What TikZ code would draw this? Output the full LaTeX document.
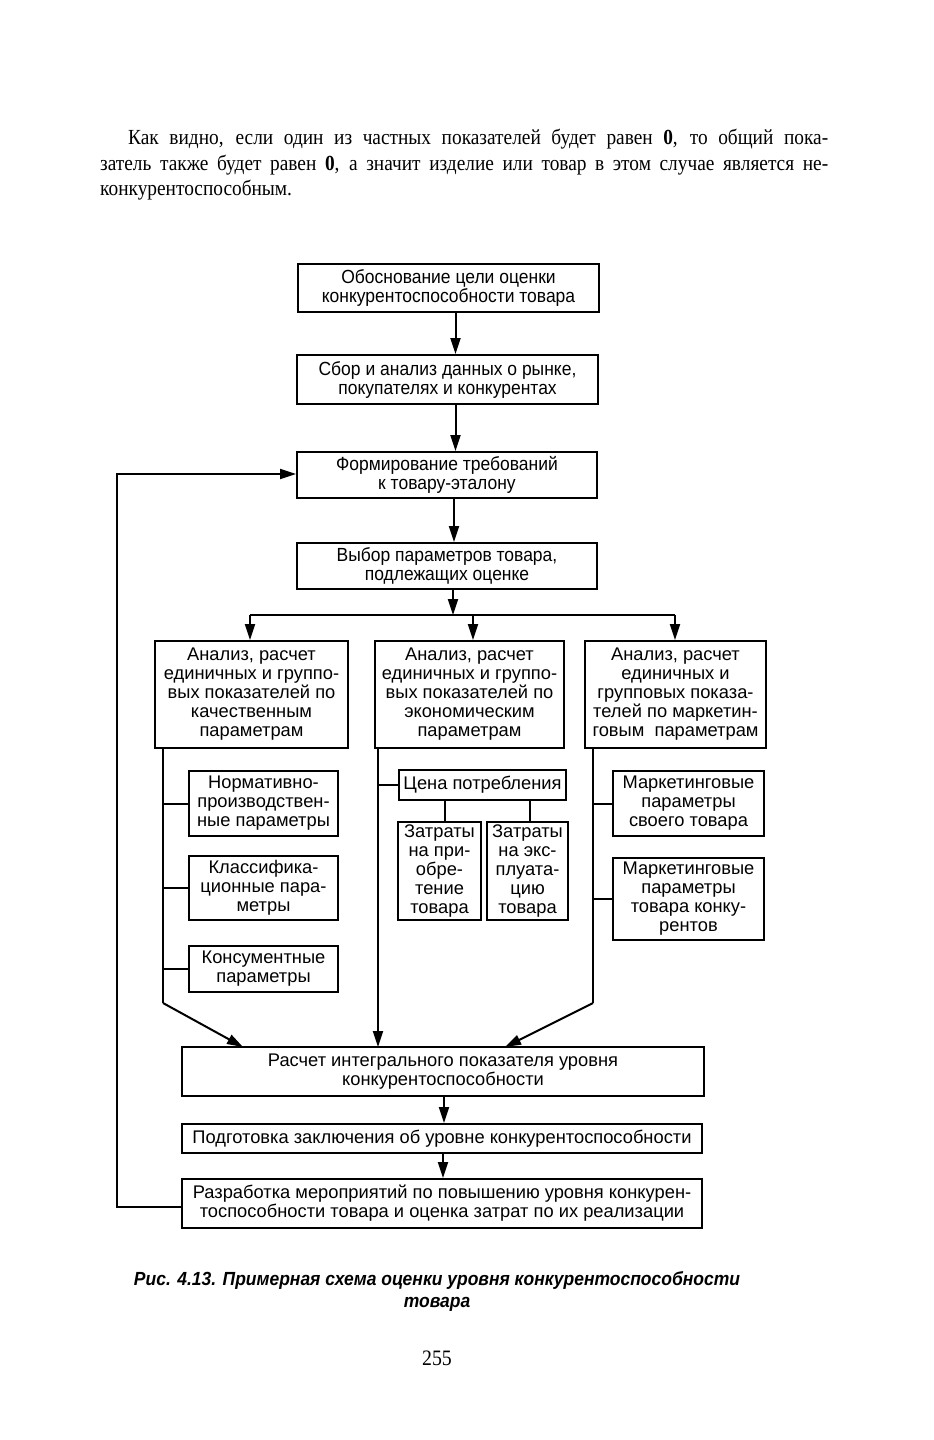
\documentclass[tikz,border=0pt]{standalone}
\usepackage{fontspec}
\setmainfont[FakeStretch=0.9]{Liberation Serif}
\newfontfamily\boxsans{Liberation Sans}
\newfontfamily\condsans[FakeStretch=0.92]{Liberation Sans}
\usetikzlibrary{arrows.meta}
\begin{document}
\begin{tikzpicture}[x=1pt,y=-1pt,
  box/.style={draw, line width=2pt, inner sep=0pt, align=center, font=\boxsans\fontsize{18.3}{19}\selectfont},
  topbox/.style={box, font=\condsans\fontsize{19}{19}\selectfont},
  ln/.style={line width=2pt},
  arr/.style={line width=2pt, -{Triangle[length=16pt,width=10pt]}},
  para/.style={anchor=base west, inner sep=0pt, font=\fontsize{21.5}{25}\selectfont},
]
\useasboundingbox (0,0) rectangle (934,1440);

% paragraph
\node[para] (p1) at (128,144) {\makebox[700pt][s]{Как видно, если один из частных показателей будет равен \textbf{0}, то общий пока-}};
\node[para] (p2) at (100,170) {\makebox[728pt][s]{затель также будет равен \textbf{0}, а значит изделие или товар в этом случае является не-}};
\node[para] (p3) at (100,195) {конкурентоспособным.};

% main column
\node[topbox, minimum width=301pt, minimum height=48pt] (b1) at (448.5,288) {Обоснование цели оценки\\конкурентоспособности товара};
\node[topbox, minimum width=301pt, minimum height=49pt] (b2) at (447.5,379.5) {Сбор и анализ данных о рынке,\\покупателях и конкурентах};
\node[topbox, minimum width=300pt, minimum height=46pt] (b3) at (447,475) {Формирование требований\\к товару-эталону};
\node[topbox, minimum width=300pt, minimum height=46pt] (b4) at (447,566) {Выбор параметров товара,\\подлежащих оценке};

\draw[arr] ([xshift=7pt]b1.south) -- ([xshift=7pt]b1.south |- b2.north);
\draw[arr] ([xshift=8pt]b2.south) -- ([xshift=8pt]b2.south |- b3.north);
\draw[arr] ([xshift=7pt]b3.south) -- ([xshift=7pt]b3.south |- b4.north);

% branch
\coordinate (brM) at (453,615);
\coordinate (brL) at (250,615);
\coordinate (brC) at (473,615);
\coordinate (brR) at (675,615);
\draw[arr] ([xshift=6pt]b4.south) -- (brM);
\draw[ln] (brL) -- (brR);

% column boxes
\node[box, minimum width=193pt, minimum height=107pt] (cL) at (251.5,694.5) {Анализ, расчет\\единичных и группо-\\вых показателей по\\качественным\\параметрам};
\node[box, minimum width=189pt, minimum height=107pt] (cM) at (469.5,694.5) {Анализ, расчет\\единичных и группо-\\вых показателей по\\экономическим\\параметрам};
\node[box, minimum width=181pt, minimum height=107pt] (cR) at (675.5,694.5) {Анализ, расчет\\единичных и\\групповых показа-\\телей по маркетин-\\говым\ \ параметрам};

\draw[arr] (brL) -- (brL |- cL.north);
\draw[arr] (brC) -- (brC |- cM.north);
\draw[arr] (brR) -- (brR |- cR.north);

% left sub-boxes
\node[box, minimum width=149pt, minimum height=65pt] (sL1) at (263.5,803.5) {Нормативно-\\производствен-\\ные параметры};
\node[box, minimum width=149pt, minimum height=64pt] (sL2) at (263.5,888) {Классифика-\\ционные пара-\\метры};
\node[box, minimum width=149pt, minimum height=46pt] (sL3) at (263.5,969) {Консументные\\параметры};

% middle sub-boxes
\node[box, minimum width=167pt, minimum height=30pt] (price) at (482.5,785) {Цена потребления};
\node[box, minimum width=83pt, minimum height=98pt] (z1) at (439.5,871) {Затраты\\на при-\\обре-\\тение\\товара};
\node[box, minimum width=81pt, minimum height=98pt] (z2) at (527.5,871) {Затраты\\на экс-\\плуата-\\цию\\товара};

% right sub-boxes
\node[box, minimum width=151pt, minimum height=65pt] (sR1) at (688.5,803.5) {Маркетинговые\\параметры\\своего товара};
\node[box, minimum width=151pt, minimum height=82pt] (sR2) at (688.5,899) {Маркетинговые\\параметры\\товара конку-\\рентов};

% bottom boxes
\node[box, minimum width=522pt, minimum height=49pt] (b5) at (443,1071.5) {Расчет интегрального показателя уровня\\конкурентоспособности};
\node[box, minimum width=520pt, minimum height=29pt] (b6) at (442,1138.5) {Подготовка заключения об уровне конкурентоспособности};
\node[box, minimum width=520pt, minimum height=49pt] (b7) at (442,1203.5) {Разработка мероприятий по повышению уровня конкурен-\\тоспособности товара и оценка затрат по их реализации};

\draw[arr] ([xshift=1pt]b5.south) -- ([xshift=1pt]b5.south |- b6.north);
\draw[arr] ([xshift=1pt]b6.south) -- ([xshift=1pt]b6.south |- b7.north);

% spines
\coordinate (tL) at (163,748);
\coordinate (kL) at (163,1003);
\coordinate (eL) at (243,1047);
\draw[ln] (tL) -- (kL);
\draw[arr] (kL) -- (eL);
\foreach \n in {sL1,sL2,sL3} \draw[ln] (tL |- \n.west) -- (\n.west);

\coordinate (tM) at (378,748);
\coordinate (eM) at (378,1047);
\draw[arr] (tM) -- (eM);
\draw[ln] (tM |- price.west) -- (price.west);
\draw[ln] ([xshift=5.5pt]price.south -| z1.north) -- ([xshift=5.5pt]z1.north);
\draw[ln] ([xshift=2.5pt]price.south -| z2.north) -- ([xshift=2.5pt]z2.north);

\coordinate (tR) at (593,748);
\coordinate (kR) at (593,1003);
\coordinate (eR) at (505,1047);
\draw[ln] (tR) -- (kR);
\draw[arr] (kR) -- (eR);
\foreach \n in {sR1,sR2} \draw[ln] (tR |- \n.west) -- (\n.west);

% feedback loop
\draw[arr] ([yshift=-3pt]b7.west) -- ++(-64,0) |- ([yshift=1pt]b3.west);

% caption
\node[inner sep=0pt, align=center, font=\condsans\bfseries\itshape\fontsize{19}{22}\selectfont] (cap) at (437,1291) {Рис. 4.13. Примерная схема оценки уровня конкурентоспособности\\товара};
\node[inner sep=0pt, font=\fontsize{22}{24}\selectfont] (pg) at (437,1358) {255};
\end{tikzpicture}
\end{document}
